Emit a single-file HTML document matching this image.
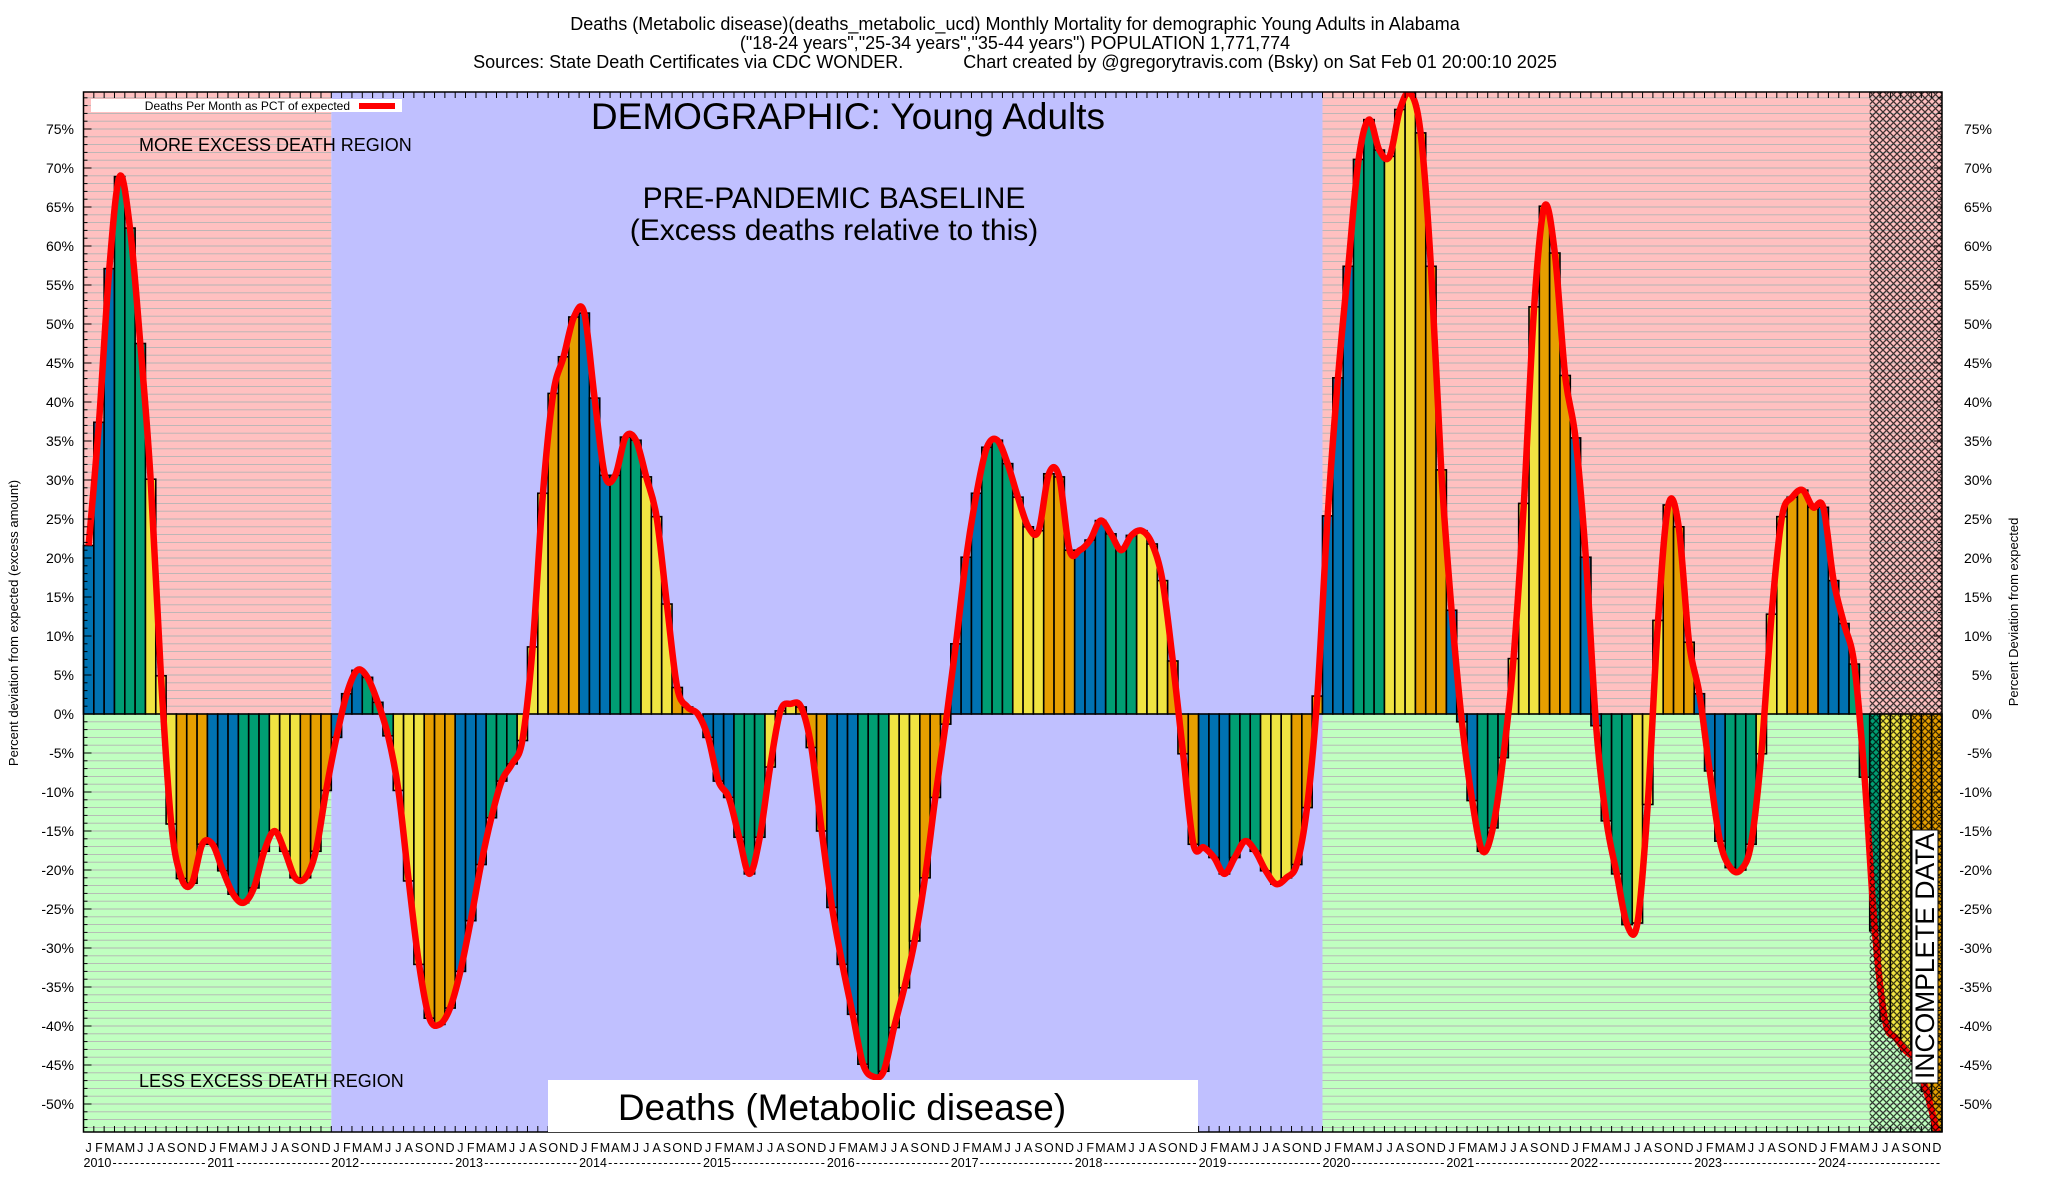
<!DOCTYPE html>
<html><head><meta charset="utf-8"><title>Deaths (Metabolic disease) Young Adults Alabama</title>
<style>
html,body{margin:0;padding:0;background:#fff;}
svg{display:block;font-family:"Liberation Sans",sans-serif;}
</style></head>
<body>
<svg id="chart" width="2048" height="1200" viewBox="0 0 2048 1200" xmlns="http://www.w3.org/2000/svg">
<defs>
<pattern id="hatch" width="7" height="7" patternUnits="userSpaceOnUse">
<path d="M0,0 L7,7 M7,0 L0,7" stroke="#000" stroke-width="1.3" stroke-opacity="0.75"/>
</pattern>
<clipPath id="plotclip"><rect x="83.5" y="92" width="1858.5" height="1040"/></clipPath>
</defs>
<g font-size="18" text-anchor="middle" fill="#000">
<text x="1015" y="30">Deaths (Metabolic disease)(deaths_metabolic_ucd) Monthly Mortality for demographic Young Adults in Alabama</text>
<text x="1015" y="49">("18-24 years","25-34 years","35-44 years") POPULATION 1,771,774</text>
<text x="1015" y="68" xml:space="preserve">Sources: State Death Certificates via CDC WONDER.            Chart created by @gregorytravis.com (Bsky) on Sat Feb 01 20:00:10 2025</text>
</g>
<g id="bg"></g>
<g id="grid"></g>
<g id="bars"></g>
<g id="line" clip-path="url(#plotclip)"></g>
<g id="hatchg"></g>
<g id="axes"></g>
<g fill="#000">
<text x="848" y="129" font-size="37" text-anchor="middle">DEMOGRAPHIC: Young Adults</text>
<text x="834" y="208" font-size="30" text-anchor="middle">PRE-PANDEMIC BASELINE</text>
<text x="834" y="240" font-size="30" text-anchor="middle">(Excess deaths relative to this)</text>
<text x="139" y="151" font-size="18">MORE EXCESS DEATH REGION</text>
<text x="139" y="1087" font-size="18">LESS EXCESS DEATH REGION</text>
<rect x="548" y="1080" width="650" height="52" fill="#fff"/>
<text x="842" y="1120" font-size="37" text-anchor="middle">Deaths (Metabolic disease)</text>
<g>
<rect x="91" y="99" width="311" height="13" fill="#fff"/>
<text x="350" y="110" font-size="12" text-anchor="end">Deaths Per Month as PCT of expected</text>
<line x1="359" y1="106" x2="395" y2="106" stroke="#f00" stroke-width="6"/>
</g>
<g>
<rect x="1912" y="830" width="26" height="253" fill="#fff" stroke="#000" stroke-width="1"/>
<text x="0" y="0" font-size="27" text-anchor="middle" transform="translate(1934,956) rotate(-90)" textLength="246" lengthAdjust="spacingAndGlyphs">INCOMPLETE DATA</text>
</g>
<text x="0" y="0" font-size="13" text-anchor="middle" transform="translate(18,623) rotate(-90)">Percent deviation from expected (excess amount)</text>
<text x="0" y="0" font-size="13" text-anchor="middle" transform="translate(2018,612) rotate(-90)">Percent Deviation from expected</text>
</g>
</svg>
<script>
const years = [2010,2011,2012,2013,2014,2015,2016,2017,2018,2019,2020,2021,2022,2023,2024];
const monthLetters = ["J","F","M","A","M","J","J","A","S","O","N","D"];
const yTicks = [-50,-45,-40,-35,-30,-25,-20,-15,-10,-5,0,5,10,15,20,25,30,35,40,45,50,55,60,65,70,75];
const values = [
21.6,37.4,57.1,68.9,62.3,47.5,30.1,4.9,-14.1,-21.1,-21.7,-16.7,
-16.7,-20.1,-23.1,-24.2,-22.3,-17.6,-15.0,-17.6,-21.0,-21.0,-17.6,-9.8,
-3.0,2.6,5.6,4.7,1.5,-2.8,-9.8,-21.4,-32.1,-39.0,-39.8,-37.7,
-33.0,-26.5,-19.3,-13.3,-8.6,-6.4,-3.4,8.6,28.3,41.1,45.8,50.9,
51.4,40.5,30.6,30.6,35.5,35.1,30.4,25.3,14.1,3.4,0.9,0.0,
-3.0,-8.6,-10.7,-15.8,-20.5,-15.8,-6.8,0.4,1.3,0.9,-4.3,-15.0,
-24.8,-32.1,-38.5,-44.9,-46.5,-45.8,-40.2,-35.1,-29.1,-21.0,-10.7,-1.3,
9.0,20.1,28.3,34.2,35.1,32.1,27.8,24.0,23.5,30.8,30.4,21.0,
21.0,22.3,24.8,23.1,21.0,22.9,23.5,21.8,17.1,6.8,-5.1,-16.7,
-17.1,-18.4,-20.5,-18.4,-16.3,-17.6,-20.1,-21.8,-21.0,-19.3,-12.0,2.3,
25.4,43.1,57.4,71.1,76.2,72.3,71.5,77.5,79.6,74.5,57.4,31.3,
13.3,-1.0,-11.1,-17.6,-14.6,-5.6,7.1,27.0,52.2,65.1,59.1,43.4,
35.4,20.1,-1.5,-13.7,-20.5,-27.0,-26.8,-11.6,12.0,26.8,24.0,9.2,
2.6,-7.3,-16.3,-19.7,-20.0,-16.7,-5.1,12.8,25.3,27.8,28.7,26.5,
26.5,17.1,11.6,6.4,-8.1,-27.8,-39.4,-41.5,-43.2,-44.5,-48.4,-53.5
];
const incompleteFrom = 173;
const baselineStart = 24, baselineEnd = 120;

const NS = "http://www.w3.org/2000/svg";
const X0 = 83.5, X1 = 1942, Y0 = 92, Y1 = 1132;
const N = values.length;
const MW = (X1 - X0) / N;
function xL(i){ return X0 + i*MW; }
function xC(i){ return X0 + (i+0.5)*MW; }
function yS(v){ return 714 - v*7.8; }
function mk(tag, attrs, parent){
  const e = document.createElementNS(NS, tag);
  for (const k in attrs) e.setAttribute(k, attrs[k]);
  parent.appendChild(e); return e;
}
const bg = document.getElementById('bg');
const grid = document.getElementById('grid');
const zeroY = yS(0);
function region(a, b, name){
  const top = mk('rect', {x:xL(a), y:Y0, width:xL(b)-xL(a), height:zeroY-Y0, fill:'#ffc0c0'}, bg);
  
  
  const bot = mk('rect', {x:xL(a), y:zeroY, width:xL(b)-xL(a), height:Y1-zeroY, fill:'#c0ffc0'}, bg);
  
  
  for (let v = -53; v <= 79; v++){
    const gl = mk('line', {x1:xL(a), x2:xL(b), y1:yS(v), y2:yS(v), stroke:'#b4b4b4', 'stroke-width':0.9}, grid);
    
    
  }
}
region(0, baselineStart, 'region-2010-2011');
const base = mk('rect', {x:xL(baselineStart), y:Y0, width:xL(baselineEnd)-xL(baselineStart), height:Y1-Y0, fill:'#c0c0ff'}, bg);


region(baselineEnd, N, 'region-2020-2024');

const colors = ['#0072b2','#009e73','#f0e442','#e69f00'];
const barsG = document.getElementById('bars');
values.forEach((v, i) => {
  const y = Math.min(yS(v), zeroY), h = Math.abs(yS(v) - zeroY);
  const r = mk('rect', {x:xL(i), y:y, width:MW, height:h, fill:colors[Math.floor((i%12)/3)], stroke:'#000', 'stroke-width':1.6}, barsG);
  
  
});

const pts = values.map((v,i) => [xC(i), yS(v)]);
let d = 'M' + pts[0][0] + ',' + pts[0][1];
for (let i = 0; i < pts.length-1; i++){
  const p0 = pts[Math.max(i-1,0)], p1 = pts[i], p2 = pts[i+1], p3 = pts[Math.min(i+2,pts.length-1)];
  const c1x = p1[0] + (p2[0]-p0[0])/6, c1y = p1[1] + (p2[1]-p0[1])/6;
  const c2x = p2[0] - (p3[0]-p1[0])/6, c2y = p2[1] - (p3[1]-p1[1])/6;
  d += ' C' + c1x + ',' + c1y + ' ' + c2x + ',' + c2y + ' ' + p2[0] + ',' + p2[1];
}
const path = mk('path', {d:d, fill:'none', stroke:'#ff0000', 'stroke-width':6.5, 'stroke-linejoin':'round'}, document.getElementById('line'));



const hr = mk('rect', {x:xL(incompleteFrom), y:Y0, width:X1-xL(incompleteFrom), height:Y1-Y0, fill:'url(#hatch)'}, document.getElementById('hatchg'));



const axes = document.getElementById('axes');
const frame = mk('rect', {x:X0, y:Y0, width:X1-X0, height:Y1-Y0, fill:'none', stroke:'#000', 'stroke-width':1.5}, axes);


for (let i = 0; i <= N; i++){
  const x = xL(i);
  mk('line', {x1:x, x2:x, y1:Y0, y2:Y0+6, stroke:'#000', 'stroke-width':1}, axes);
  mk('line', {x1:x, x2:x, y1:Y1, y2:Y1-6, stroke:'#000', 'stroke-width':1}, axes);
}
for (let v = -53; v <= 79; v++){
  const y = yS(v), len = (v%5===0) ? 8 : 4;
  mk('line', {x1:X0, x2:X0+len, y1:y, y2:y, stroke:'#000', 'stroke-width':1}, axes);
  mk('line', {x1:X1, x2:X1-len, y1:y, y2:y, stroke:'#000', 'stroke-width':1}, axes);
}
yTicks.forEach(v => {
  const tl = mk('text', {x:74, y:yS(v)+5, 'font-size':14, 'text-anchor':'end'}, axes);
  tl.textContent = v + '%';
  
  
  const tr = mk('text', {x:1992, y:yS(v)+5, 'font-size':14, 'text-anchor':'end'}, axes);
  tr.textContent = v + '%';
  
  
});
for (let i = 0; i < N; i++){
  const t = mk('text', {x:xC(i), y:1152, 'font-size':12.5, 'text-anchor':'middle'}, axes);
  t.textContent = monthLetters[i%12];
  
  
}
years.forEach((yr, k) => {
  const x = xL(k*12);
  const t = mk('text', {x:x, y:1167, 'font-size':12.5}, axes);
  t.textContent = yr;
  
  
  const dsh = mk('text', {x:x+29, y:1167, 'font-size':12.5, textLength:12*MW-31, lengthAdjust:'spacing'}, axes);
  dsh.textContent = '-----------------';
  
  
});
</script>
</body></html>
